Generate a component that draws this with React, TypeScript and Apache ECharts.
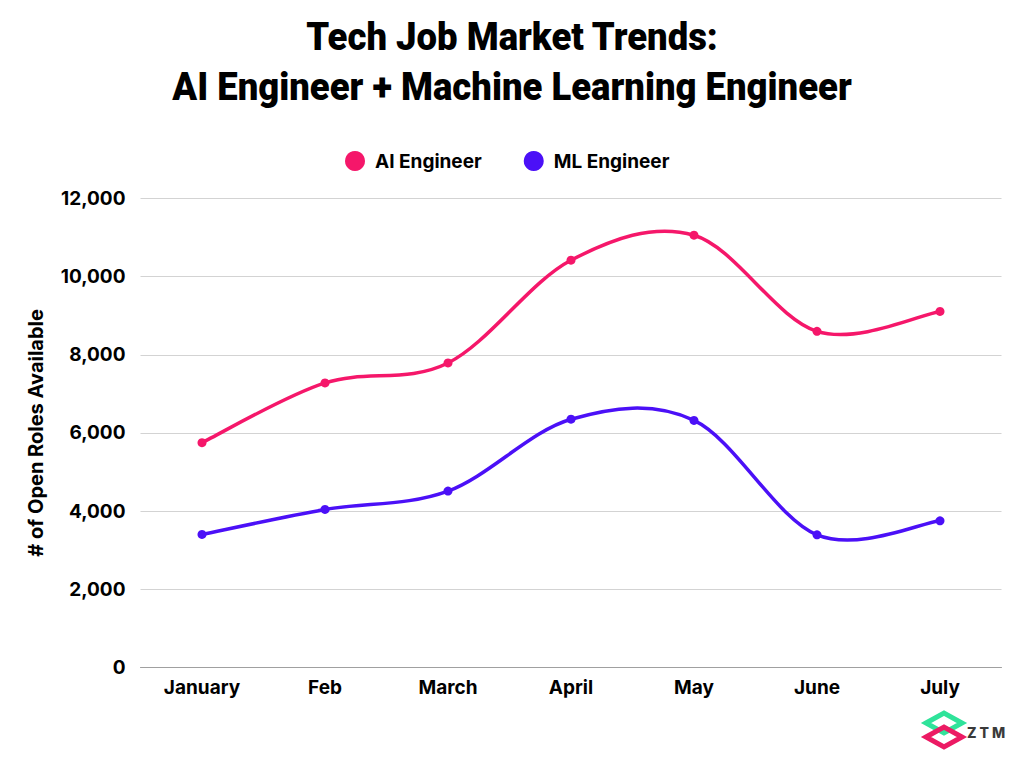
import React, { useEffect, useRef } from "react";
import * as echarts from "echarts";

const months = ["January", "Feb", "March", "April", "May", "June", "July"];
const aiEngineer = [5750, 7280, 7790, 10420, 11060, 8600, 9110];
const mlEngineer = [3400, 4040, 4510, 6350, 6320, 3390, 3750];
const yTicks = { min: 0, max: 12000, interval: 2000 };
const titleLines = ["Tech Job Market Trends:", "AI Engineer + Machine Learning Engineer"];

const AI_COLOR = "#f5176a";
const ML_COLOR = "#4b10f7";
const FONT = "Inter, 'Noto Sans', sans-serif";

function curveSeries(name: string, values: number[], color: string) {
  return {
    name,
    type: "custom",
    data: [[0, values[0]]],
    silent: true,
    z: 1,
    itemStyle: { color },
    renderItem: (_params: any, api: any) => {
      const pts = values.map((v, i) => api.coord([i, v]));
      let d = `M${pts[0][0]},${pts[0][1]}`;
      for (let i = 0; i < pts.length - 1; i++) {
        const p0 = pts[Math.max(0, i - 1)];
        const p1 = pts[i];
        const p2 = pts[i + 1];
        const p3 = pts[Math.min(pts.length - 1, i + 2)];
        const c1x = p1[0] + (p2[0] - p0[0]) / 6;
        const c1y = p1[1] + (p2[1] - p0[1]) / 6;
        const c2x = p2[0] - (p3[0] - p1[0]) / 6;
        const c2y = p2[1] - (p3[1] - p1[1]) / 6;
        d += ` C${c1x},${c1y} ${c2x},${c2y} ${p2[0]},${p2[1]}`;
      }
      return {
        type: "path",
        shape: { pathData: d },
        style: { fill: "none", stroke: color, lineWidth: 3.5, lineCap: "round", lineJoin: "round" },
      };
    },
  };
}

export default function App() {
  const ref = useRef<HTMLDivElement>(null);
  useEffect(() => {
    document.body.style.margin = "0";
    const chart = echarts.init(ref.current!, null, { renderer: "svg" });
    chart.setOption({
      animation: false,
      backgroundColor: "#ffffff",
      color: [AI_COLOR, ML_COLOR],
      legend: {
        top: 146,
        left: 340,
        icon: "circle",
        itemWidth: 20,
        itemHeight: 20,
        itemGap: 42,
        textStyle: { fontFamily: FONT, fontWeight: 700, fontSize: 19, color: "#000", padding: [0, 0, 0, 5] },
        data: ["AI Engineer", "ML Engineer"],
      },
      grid: { left: 140.5, right: 22.5, top: 198.5, bottom: 100.7, containLabel: false },
      xAxis: {
        type: "category",
        data: months,
        boundaryGap: true,
        axisLine: { lineStyle: { color: "#a0a0a0", width: 1 } },
        axisTick: { show: false },
        axisLabel: { margin: 11, fontFamily: FONT, fontWeight: 700, fontSize: 19, color: "#000" },
      },
      yAxis: {
        type: "value",
        min: yTicks.min,
        max: yTicks.max,
        interval: yTicks.interval,
        name: "# of Open Roles Available",
        nameLocation: "middle",
        nameGap: 95,
        nameTextStyle: { fontFamily: FONT, fontWeight: 700, fontSize: 20, color: "#000" },
        axisLine: { show: false },
        axisTick: { show: false },
        splitLine: { lineStyle: { color: "#d3d3d3", width: 1 } },
        axisLabel: {
          margin: 15,
          fontFamily: FONT,
          fontWeight: 700,
          fontSize: 19,
          color: "#000",
          formatter: (v: number) => v.toLocaleString("en-US"),
        },
      },
      series: [
        {
          name: "AI Engineer",
          type: "line",
          data: aiEngineer,
          symbol: "circle",
          symbolSize: 9,
          z: 3,
          itemStyle: { color: AI_COLOR },
          lineStyle: { width: 0, opacity: 0 },
        },
        {
          name: "ML Engineer",
          type: "line",
          data: mlEngineer,
          symbol: "circle",
          symbolSize: 9,
          z: 3,
          itemStyle: { color: ML_COLOR },
          lineStyle: { width: 0, opacity: 0 },
        },
        curveSeries("AI Engineer curve", aiEngineer, AI_COLOR),
        curveSeries("ML Engineer curve", mlEngineer, ML_COLOR),
      ],
      graphic: [
        {
          type: "text",
          x: 512,
          y: 37,
          scaleX: 0.96,
          style: {
            text: titleLines[0],
            fontFamily: "Roboto, sans-serif",
            fontWeight: 900,
            fontSize: 38,
            fill: "#000",
            align: "center",
            verticalAlign: "middle",
          },
        },
        {
          type: "text",
          x: 512,
          y: 87,
          scaleX: 0.96,
          style: {
            text: titleLines[1],
            fontFamily: "Roboto, sans-serif",
            fontWeight: 900,
            fontSize: 38,
            fill: "#000",
            align: "center",
            verticalAlign: "middle",
          },
        },
        {
          type: "polygon",
          shape: { points: [[926, 723], [944, 713], [962, 723], [944, 733]] },
          style: { fill: "none", stroke: "#2fe39a", lineWidth: 5, lineJoin: "miter" },
        },
        {
          type: "polygon",
          shape: { points: [[926, 737], [944, 727], [962, 737], [944, 747]] },
          style: { fill: "none", stroke: "#ec1a63", lineWidth: 5, lineJoin: "miter" },
        },
        {
          type: "text",
          x: 967,
          y: 732,
          style: {
            text: "Z T M",
            fontFamily: FONT,
            fontWeight: 800,
            fontSize: 14,
            fill: "#3a3a3a",
            verticalAlign: "middle",
          },
        },
      ],
    });
    return () => chart.dispose();
  }, []);
  return <div ref={ref} style={{ width: 1024, height: 768 }} />;
}
